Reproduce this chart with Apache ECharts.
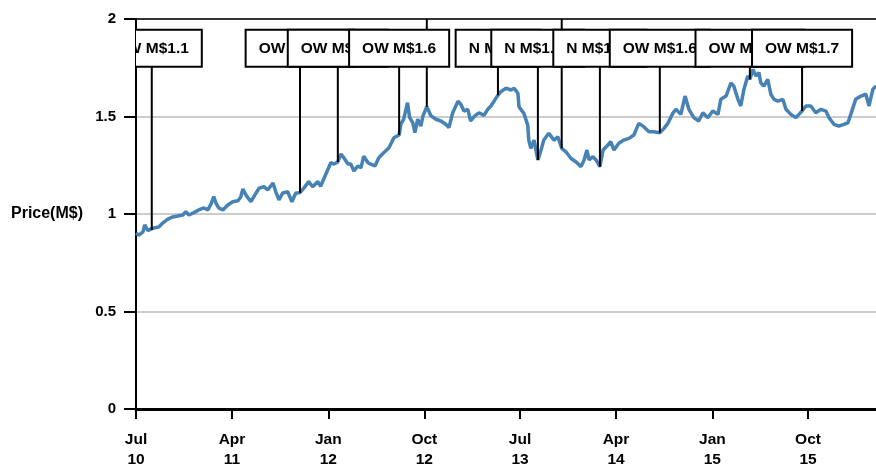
<!DOCTYPE html>
<html>
<head>
<meta charset="utf-8">
<title>Price(M$)</title>
<script src="https://cdn.jsdelivr.net/npm/echarts@6/dist/echarts.min.js"></script>
<style>
html, body { margin: 0; padding: 0; background: #fff; }
#main { width: 876px; height: 464px; }
</style>
</head>
<body>
<div id="main"></div>
<script>
// price line
var priceDates = [
  '2010-07-01','2010-07-09','2010-07-21','2010-07-26','2010-08-04','2010-08-12','2010-08-15','2010-08-21',
  '2010-09-04','2010-09-16','2010-09-30','2010-10-14','2010-10-28','2010-11-12','2010-11-20','2010-11-29',
  '2010-12-13','2010-12-27','2011-01-11','2011-01-22','2011-01-31','2011-02-08','2011-02-14','2011-02-22',
  '2011-03-06','2011-03-20','2011-04-03','2011-04-18','2011-04-26','2011-05-02','2011-05-11','2011-05-25',
  '2011-06-05','2011-06-17','2011-07-01','2011-07-12','2011-07-27','2011-08-04','2011-08-13','2011-08-24',
  '2011-09-07','2011-09-19','2011-09-30','2011-10-12','2011-10-23','2011-11-06','2011-11-17','2011-12-02',
  '2011-12-10','2011-12-25','2012-01-08','2012-01-17','2012-01-28','2012-02-06','2012-02-14','2012-02-26',
  '2012-03-05','2012-03-14','2012-03-25','2012-04-03','2012-04-11','2012-04-23','2012-05-01','2012-05-13',
  '2012-05-24','2012-06-07','2012-06-22','2012-07-06','2012-07-21','2012-07-26','2012-08-03','2012-08-14',
  '2012-08-20','2012-08-29','2012-09-04','2012-09-12','2012-09-21','2012-09-27','2012-10-08','2012-10-20',
  '2012-11-03','2012-11-17','2012-12-01','2012-12-10','2012-12-21','2013-01-05','2013-01-13','2013-01-22',
  '2013-02-02','2013-02-10','2013-02-22','2013-03-06','2013-03-20','2013-03-31','2013-04-09','2013-04-23',
  '2013-04-29','2013-05-07','2013-05-22','2013-06-05','2013-06-14','2013-06-25','2013-06-28','2013-07-12',
  '2013-07-23','2013-07-26','2013-08-01','2013-08-10','2013-08-21','2013-08-30','2013-09-07','2013-09-21',
  '2013-10-06','2013-10-17','2013-10-28','2013-11-09','2013-11-23','2013-12-07','2013-12-22','2013-12-31',
  '2014-01-08','2014-01-14','2014-01-25','2014-02-03','2014-02-14','2014-02-23','2014-03-09','2014-03-17',
  '2014-03-26','2014-04-09','2014-04-23','2014-05-08','2014-05-22','2014-06-05','2014-06-19','2014-07-04',
  '2014-07-18','2014-08-04','2014-08-16','2014-08-27','2014-09-10','2014-09-19','2014-09-24','2014-10-03',
  '2014-10-15','2014-10-26','2014-11-09','2014-11-23','2014-12-05','2014-12-19','2015-01-02','2015-01-17',
  '2015-01-25','2015-02-09','2015-02-23','2015-03-03','2015-03-15','2015-03-23','2015-04-01','2015-04-12',
  '2015-04-18','2015-04-27','2015-05-05','2015-05-14','2015-05-19','2015-05-28','2015-06-08','2015-06-17',
  '2015-06-26','2015-07-07','2015-07-21','2015-07-30','2015-08-13','2015-08-27','2015-09-05','2015-09-14',
  '2015-09-25','2015-10-09','2015-10-23','2015-11-07','2015-11-21','2015-11-30','2015-12-14','2015-12-28',
  '2016-01-11','2016-01-23','2016-01-31','2016-02-14','2016-02-29','2016-03-14','2016-03-23','2016-04-03',
  '2016-04-12'
];
var priceValues = [
  0.901,0.892,0.908,0.944,0.914,0.923,0.918,0.928,
  0.933,0.955,0.974,0.985,0.990,0.995,1.012,0.995,
  1.007,1.021,1.031,1.021,1.051,1.089,1.056,1.031,
  1.021,1.046,1.063,1.068,1.087,1.128,1.097,1.063,
  1.097,1.132,1.140,1.123,1.159,1.114,1.072,1.108,
  1.114,1.063,1.108,1.109,1.133,1.166,1.140,1.166,
  1.142,1.205,1.263,1.256,1.267,1.308,1.289,1.256,
  1.256,1.221,1.246,1.237,1.297,1.263,1.256,1.246,
  1.289,1.314,1.340,1.391,1.405,1.462,1.486,1.571,
  1.494,1.468,1.417,1.486,1.451,1.503,1.550,1.503,
  1.486,1.477,1.460,1.443,1.519,1.579,1.563,1.528,
  1.537,1.477,1.503,1.519,1.506,1.537,1.554,1.593,
  1.609,1.627,1.645,1.636,1.645,1.619,1.550,1.516,
  1.456,1.379,1.337,1.379,1.277,1.328,1.379,1.414,
  1.379,1.396,1.337,1.319,1.286,1.268,1.243,1.277,
  1.328,1.277,1.294,1.277,1.243,1.328,1.354,1.371,
  1.328,1.363,1.379,1.388,1.405,1.465,1.448,1.422,
  1.422,1.417,1.439,1.465,1.516,1.537,1.542,1.511,
  1.605,1.537,1.494,1.477,1.519,1.494,1.528,1.511,
  1.588,1.605,1.673,1.656,1.588,1.554,1.639,1.708,
  1.691,1.742,1.708,1.725,1.673,1.656,1.691,1.614,
  1.588,1.579,1.588,1.537,1.511,1.494,1.511,1.528,
  1.554,1.554,1.519,1.537,1.528,1.494,1.460,1.451,
  1.460,1.468,1.511,1.588,1.605,1.614,1.554,1.639,
  1.656
];

// x axis ticks
var tickDates = ['2010-07-01','2011-04-01','2012-01-01','2012-10-01','2013-07-01','2014-04-01','2015-01-01','2015-10-01'];
var tickMonths = ['Jul','Apr','Jan','Oct','Jul','Apr','Jan','Oct'];
var tickYears = ['10','11','12','12','13','14','15','15'];

// rating annotations ('' = line only, no box)
var annoDates = ['2010-08-15','2011-10-12','2012-01-28','2012-07-21','2012-10-08','2013-04-29',
                 '2013-08-21','2013-10-28','2014-02-14','2014-08-04','2015-04-18','2015-09-14'];
var annoPrices = [0.918,1.109,1.267,1.405,1.550,1.609,1.277,1.337,1.243,1.417,1.691,1.528];
var annoLabels = ['OW M$1.1','OW M$1.25','OW M$1.4','OW M$1.6','','N M$1.6',
                  'N M$1.35','','N M$1.35','OW M$1.6','OW M$1.85','OW M$1.7'];

function toTime(s) {
  var p = s.split('-');
  return new Date(+p[0], +p[1] - 1, +p[2]).getTime();
}

var xMin = toTime('2010-07-01');
var xMax = toTime('2016-04-12');
var boxY = 1.85;   // value level where the boxes sit
var font = '"Liberation Sans", Arial, Helvetica, sans-serif';

var tickTimes = tickDates.map(toTime);
var lineData = priceDates.map(function (d, i) { return [toTime(d), priceValues[i]]; });
var stemData = annoDates.map(function (d, i) {
  return [toTime(d), annoPrices[i], annoLabels[i] ? boxY : 2];
});
var boxItems = [];
annoDates.forEach(function (d, i) {
  if (annoLabels[i]) boxItems.push({ value: [toTime(d), boxY], text: annoLabels[i] });
});

var myChart = echarts.init(document.getElementById('main'));
var option = {
  animation: false,
  grid: { left: 136, right: 0, top: 19, bottom: 55, outerBoundsMode: 'none' },
  xAxis: [
    {
      type: 'value',
      min: xMin,
      max: xMax,
      axisLine: { lineStyle: { color: '#000', width: 3 } },
      axisTick: { customValues: tickTimes, length: 10, lineStyle: { color: '#000', width: 2 } },
      axisLabel: {
        customValues: tickTimes,
        margin: 21,
        color: '#000',
        fontWeight: 'bold',
        fontSize: 15.5,
        lineHeight: 20,
        fontFamily: font,
        formatter: function (val) {
          var i = tickTimes.indexOf(val);
          if (i < 0) return '';
          return tickMonths[i] + '\n' + tickYears[i];
        }
      },
      splitLine: { show: false }
    },
    {
      type: 'value',
      position: 'top',
      min: xMin,
      max: xMax,
      axisLine: { lineStyle: { color: '#000', width: 1.5 } },
      axisTick: { show: false },
      axisLabel: { show: false },
      splitLine: { show: false }
    }
  ],
  yAxis: {
    type: 'value',
    min: 0,
    max: 2,
    interval: 0.5,
    name: 'Price(M$)',
    nameLocation: 'middle',
    nameRotate: 0,
    nameGap: 53,
    nameTextStyle: { color: '#000', fontWeight: 'bold', fontSize: 16, fontFamily: font },
    axisLine: { show: true, lineStyle: { color: '#000', width: 2 } },
    axisTick: { show: true, length: 12, lineStyle: { color: '#000', width: 2 } },
    axisLabel: { color: '#000', fontWeight: 'bold', fontSize: 15, fontFamily: font, margin: 20 },
    splitLine: { lineStyle: { color: '#bbb', width: 1.5 } }
  },
  series: [
    {
      type: 'line',
      data: lineData,
      showSymbol: false,
      z: 2,
      lineStyle: { color: '#4682b4', width: 3.5 }
    },
    {
      // connector lines from the price to the box / top
      type: 'custom',
      clip: true,
      z: 3,
      data: stemData,
      renderItem: function (params, api) {
        var p0 = api.coord([api.value(0), api.value(1)]);
        var p1 = api.coord([api.value(0), api.value(2)]);
        return {
          type: 'line',
          shape: { x1: p0[0], y1: p0[1], x2: p1[0], y2: p1[1] },
          style: { stroke: '#000', lineWidth: 2 }
        };
      }
    },
    {
      // rating boxes
      type: 'custom',
      clip: true,
      z: 4,
      data: boxItems,
      renderItem: function (params, api) {
        var p = api.coord([api.value(0), api.value(1)]);
        return {
          type: 'text',
          x: p[0],
          y: p[1],
          style: {
            text: boxItems[params.dataIndex].text,
            font: 'bold 15.5px ' + font,
            fill: '#000',
            align: 'center',
            verticalAlign: 'middle',
            backgroundColor: '#fff',
            borderColor: '#000',
            borderWidth: 2,
            padding: [10, 12, 9, 12]
          }
        };
      }
    }
  ]
};
myChart.setOption(option);
</script>
</body>
</html>
